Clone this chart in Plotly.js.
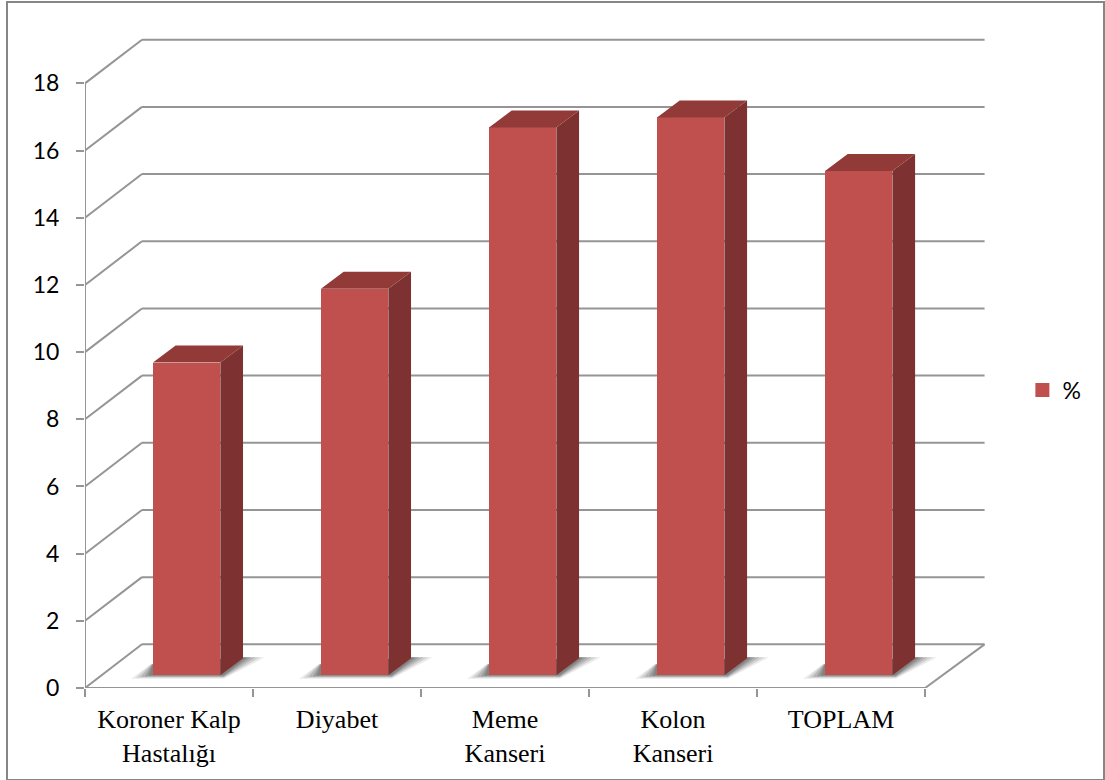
<!DOCTYPE html>
<html>
<head>
<meta charset="utf-8">
<script src="https://cdn.plot.ly/plotly-3.0.1.min.js"></script>
<style>
  html, body { margin: 0; padding: 0; background: #fff; }
  #chart { position: absolute; left: 0; top: 0; width: 1105px; height: 780px; }
  #frame { position: absolute; left: 6px; top: 1px; width: 1095px; height: 776px;
           border: 2px solid #868686; pointer-events: none; }
</style>
</head>
<body>
<div id="chart"></div>
<div id="frame"></div>
<script>
// Disease categories and their percentage values
const categories = ['Koroner Kalp<br>Hastalığı', 'Diyabet', 'Meme<br>Kanseri', 'Kolon<br>Kanseri', 'TOPLAM'];
const percentages = [9.25, 11.45, 16.25, 16.55, 14.95];
const seriesName = '%';
const yTicks = [0, 2, 4, 6, 8, 10, 12, 14, 16, 18];

// Pseudo-3D projection, expressed in axis units
const wallDx = 0.339, wallDxRight = 0.354, wallDy = 1.30;  // depth of the chart box
const barDx = 0.135, barDy = 0.506;                        // depth of each column
const barInset = 0.605, barWidth = 0.389, barBase = 0.408;

const cx = categories.map((_, i) => i + barInset);
const halfW = barWidth / 2 + 0.006;      // outer edge including the outline

// Colours
const front = '#C0504D', side = '#7D3231', top_ = '#913A38', grid = '#959595';

// Side and top faces share one trace each, separated by nulls
const sideX = [], sideY = [], topX = [], topY = [];
cx.forEach((c, i) => {
  const r = c + halfW, l = c - halfW, b = barBase - 0.03, t = barBase + percentages[i] + 0.03;
  sideX.push(r, r + barDx, r + barDx, r, r, null);
  sideY.push(b, b + barDy, t + barDy, t, b, null);
  topX.push(l, l + barDx, r + barDx, r, l, null);
  topY.push(t, t + barDy, t + barDy, t, t, null);
});

const traces = [
  { type: 'bar', name: seriesName, x: cx, y: percentages, base: barBase, width: barWidth,
    marker: { color: front, line: { color: front, width: 2 } }, hoverinfo: 'y' },
  { type: 'scatter', mode: 'none', x: sideX, y: sideY, fill: 'toself', fillcolor: side,
    showlegend: false, hoverinfo: 'skip' },
  { type: 'scatter', mode: 'none', x: topX, y: topY, fill: 'toself', fillcolor: top_,
    showlegend: false, hoverinfo: 'skip' }
];

const gridLine = { color: grid, width: 2 };
const shapes = [];
const seg = (x0, y0, x1, y1, line) =>
  shapes.push({ type: 'line', layer: 'below', xref: 'x', yref: 'y', x0, y0, x1, y1, line });

// Back wall rules and side wall diagonals for each tick
yTicks.forEach(v => {
  seg(wallDx, v + wallDy, categories.length + wallDxRight, v + wallDy, gridLine);
  seg(0, v, wallDx, v + wallDy, gridLine);
});
// Front axis lines and the right edge of the floor
seg(0, 0, 0, yTicks[yTicks.length - 1], gridLine);
seg(0, 0, categories.length, 0, gridLine);
seg(categories.length, 0, categories.length + wallDxRight, wallDy, gridLine);

// Soft floor shadow: stacked translucent polygons, wider ones fainter
const shadowLayers = [
  { grow: 1.0, opacity: 0.10 },
  { grow: 0.75, opacity: 0.14 },
  { grow: 0.5, opacity: 0.18 },
  { grow: 0.25, opacity: 0.22 },
  { grow: 0.05, opacity: 0.26 }
];
cx.forEach(c => {
  const l = c - halfW, r = c + halfW, b = barBase;
  shadowLayers.forEach(s => {
    const ex = 0.02 + 0.11 * s.grow, ey = 0.03 + 0.1 * s.grow;
    const pts = [
      [l - ex, b - ey],
      [l - ex * 0.1, b + 0.3],
      [r + barDx, b + barDy],
      [r + barDx + ex, b + barDy],
      [r + 0.02, b - ey]
    ];
    shapes.push({
      type: 'path', layer: 'below', xref: 'x', yref: 'y', opacity: s.opacity,
      fillcolor: '#3c3c3c', line: { width: 0 },
      path: 'M' + pts.map(p => p[0] + ',' + p[1]).join('L') + 'Z'
    });
  });
});

const layout = {
  width: 1105, height: 780,
  paper_bgcolor: '#fff', plot_bgcolor: 'rgba(0,0,0,0)',
  margin: { l: 84.5, r: 0, t: 32.5, b: 92.3, pad: 0 },
  showlegend: true,
  legend: { x: 0.919, xanchor: 'left', y: 0.455, yanchor: 'middle',
            font: { family: 'Lato, sans-serif', size: 23, color: '#000' },
            bgcolor: 'rgba(0,0,0,0)', itemwidth: 30 },
  bargap: 0,
  xaxis: {
    range: [0, 6.0708], showgrid: false, zeroline: false, showline: false,
    tickmode: 'array', tickvals: categories.map((_, i) => i + 0.5), ticktext: categories,
    ticks: '', ticklen: 0, ticklabelstandoff: 13,
    tickfont: { family: '"Liberation Serif", serif', size: 26, color: '#000' },
    minor: { tickmode: 'array', tickvals: categories.map((_, i) => i).concat(categories.length),
             ticks: 'outside', ticklen: 8, tickwidth: 2, tickcolor: grid, showgrid: false }
  },
  yaxis: {
    range: [0, 19.5], showgrid: false, zeroline: false, showline: false,
    tickmode: 'array', tickvals: yTicks,
    ticks: 'outside', ticklen: 8, tickwidth: 2, tickcolor: grid, ticklabelstandoff: 12,
    tickfont: { family: 'Lato, sans-serif', size: 23, color: '#000' }
  },
  shapes
};

Plotly.newPlot('chart', traces, layout, { displayModeBar: false });
</script>
</body>
</html>
